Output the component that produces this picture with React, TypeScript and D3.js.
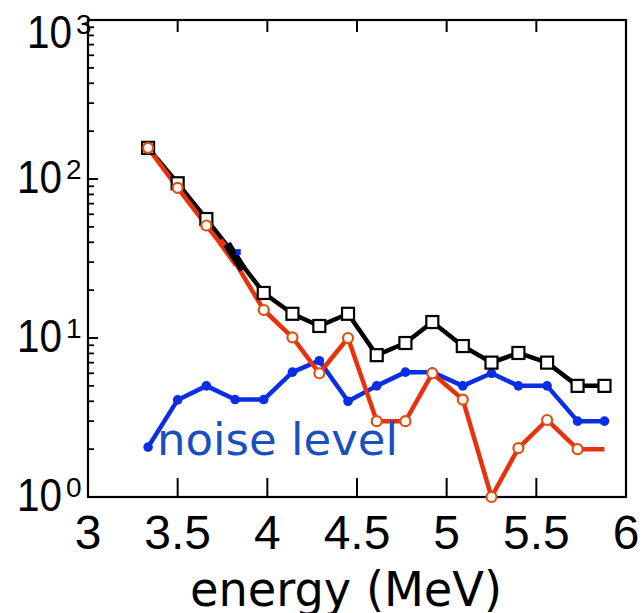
import React from "react";
import * as d3 from "d3";

const energy = [3.335, 3.5, 3.66, 3.82, 3.98, 4.14, 4.29, 4.45, 4.61, 4.77, 4.92, 5.09, 5.25, 5.4, 5.56, 5.73, 5.88];
const totalCounts = [157, 94, 56, 33, 19.2, 14.2, 11.9, 14.2, 7.8, 9.3, 12.6, 8.9, 7.0, 8.05, 7.0, 5.0, 5.0];
const signalCounts = [157, 88, 51, 30, 15, 10.1, 6.0, 10, 3.0, 3.0, 6.0, 4.1, 1.0, 2.03, 3.05, 2.0, 2.0];
const noiseCounts = [2.06, 4.08, 5.0, 4.1, 4.1, 6.1, 7.2, 4.0, 5.0, 6.1, 6.1, 5.0, 6.0, 5.0, 5.0, 3.0, 3.0];
const totalHiddenMarkers = [3];
const signalHiddenMarkers = [3, 16];
const totalThickX = [3.775, 3.865];
const totalThickY = [39, 27];
const signalThickX = [3.735, 3.83];
const signalThickY = [41, 29];
const blipX = [3.835];
const blipY = [34.7];

const xTicks = [3, 3.5, 4, 4.5, 5, 5.5, 6];
const xTickLabels = ["3", "3.5", "4", "4.5", "5", "5.5", "6"];
const yDecades = [0, 1, 2, 3];

const W = 644;
const H = 613;

export default function App() {
  const x = d3.scaleLinear().domain([3, 6]).range([88, 626]);
  const y = d3.scaleLog().domain([1, 1000]).range([497, 20]);
  const line = d3
    .line<[number, number]>()
    .x((d) => x(d[0]))
    .y((d) => y(d[1]));

  const tot = energy.map((e, i) => [e, totalCounts[i]] as [number, number]);
  const sig = energy.map((e, i) => [e, signalCounts[i]] as [number, number]);
  const noi = energy.map((e, i) => [e, noiseCounts[i]] as [number, number]);
  const totThick = totalThickX.map((e, i) => [e, totalThickY[i]] as [number, number]);
  const sigThick = signalThickX.map((e, i) => [e, signalThickY[i]] as [number, number]);

  const minor: number[] = [];
  for (let d = 0; d < 3; d++) for (let k = 2; k <= 9; k++) minor.push(k * Math.pow(10, d));

  const black = "#000";
  const red = "#e8320c";
  const blue = "#0a2ee6";

  return (
    <svg width={W} height={H} style={{ position: "absolute", left: 0, top: 0 }} xmlns="http://www.w3.org/2000/svg">
      <rect x={0} y={0} width={W} height={H} fill="#fff" />
      {/* frame */}
      <rect x={x(3)} y={y(1000)} width={x(6) - x(3)} height={y(1) - y(1000)} fill="none" stroke="#000" strokeWidth={2.2} />
      {/* x ticks */}
      {xTicks.slice(1, -1).map((t) => (
        <g key={"xt" + t}>
          <line x1={x(t)} x2={x(t)} y1={y(1)} y2={y(1) - 19} stroke="#000" strokeWidth={2} />
          <line x1={x(t)} x2={x(t)} y1={y(1000)} y2={y(1000) + 12} stroke="#000" strokeWidth={2} />
        </g>
      ))}
      {/* y ticks */}
      {minor.map((v) => (
        <line key={"ym" + v} x1={x(3)} x2={x(3) + 6} y1={y(v)} y2={y(v)} stroke="#000" strokeWidth={1.8} />
      ))}
      {yDecades.slice(1, 3).map((d) => (
        <line key={"yM" + d} x1={x(3)} x2={x(3) + 10} y1={y(Math.pow(10, d))} y2={y(Math.pow(10, d))} stroke="#000" strokeWidth={2} />
      ))}
      {/* x tick labels */}
      {xTicks.map((t, i) => (
        <text key={"xl" + t} x={x(t)} y={549} textAnchor="middle" fontFamily="Liberation Sans, Arial, sans-serif" fontSize={48} fill="#000">
          {xTickLabels[i]}
        </text>
      ))}
      {/* y tick labels */}
      {yDecades.map((d) => {
        const top = d === 3;
        const base = top ? 48 : y(Math.pow(10, d)) + 14;
        const left = top ? 27 : 17;
        return (
          <g key={"yl" + d}>
            <text x={left} y={base} fontFamily="Liberation Sans, Arial, sans-serif" fontSize={47} textLength={45} lengthAdjust="spacingAndGlyphs" fill="#000">
              10
            </text>
            <text x={left + 49} y={base - 14} fontFamily="Liberation Sans, Arial, sans-serif" fontSize={28} fill="#000">
              {String(d)}
            </text>
          </g>
        );
      })}
      {/* axis label */}
      <text x={190} y={606} fontFamily="DejaVu Sans, sans-serif" fontSize={48} textLength={312} lengthAdjust="spacingAndGlyphs" fill="#000">
        energy (MeV)
      </text>

      {/* total (black squares) */}
      <path d={line(tot) || ""} fill="none" stroke={black} strokeWidth={4.5} strokeLinejoin="round" />
      {/* noise (blue dots) */}
      <path d={line(noi) || ""} fill="none" stroke={blue} strokeWidth={4.5} strokeLinejoin="round" />
      {noi.map((p, i) => (
        <circle key={"nb" + i} cx={x(p[0])} cy={y(p[1])} r={4.8} fill={blue} />
      ))}
      {/* signal (red circles) */}
      <path d={line(sig) || ""} fill="none" stroke={red} strokeWidth={4.5} strokeLinejoin="round" />
      <path d={line(sigThick) || ""} fill="none" stroke={red} strokeWidth={7} />
      <path d={line(totThick) || ""} fill="none" stroke={black} strokeWidth={8.5} />
      {blipX.map((b, i) => (
        <rect key={"bl" + i} x={x(b) - 2} y={y(blipY[i]) - 3} width={5} height={6} fill={blue} />
      ))}
      {tot.map((p, i) =>
        totalHiddenMarkers.includes(i) ? null : (
          <rect key={"ts" + i} x={x(p[0]) - 6} y={y(p[1]) - 6} width={12} height={12} fill="#fff" stroke={black} strokeWidth={2.2} />
        )
      )}
      {sig.map((p, i) =>
        signalHiddenMarkers.includes(i) ? null : (
          <circle key={"sc" + i} cx={x(p[0])} cy={y(p[1])} r={5} fill="#fff" stroke="#e0500c" strokeWidth={2.2} />
        )
      )}

      {/* noise label */}
      <text x={157} y={455} fontFamily="DejaVu Sans, sans-serif" fontSize={45} fill="#1a4fc0">
        noise level
      </text>
    </svg>
  );
}
